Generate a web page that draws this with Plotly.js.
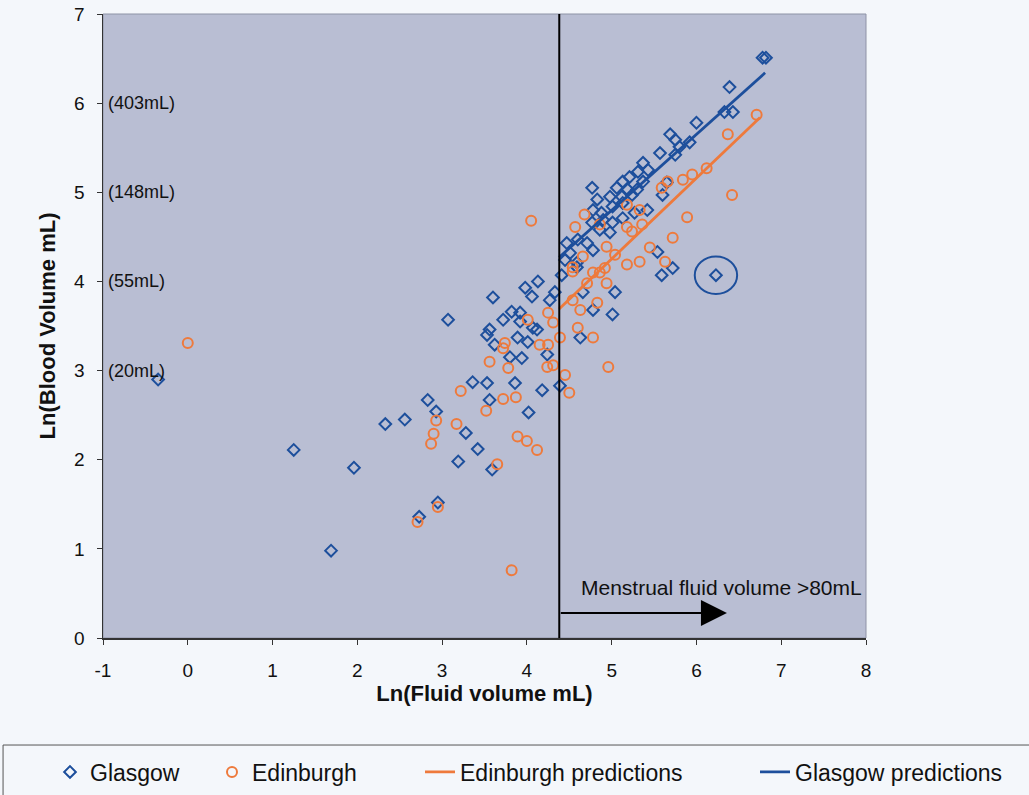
<!DOCTYPE html>
<html>
<head>
<meta charset="utf-8">
<script src="https://cdn.plot.ly/plotly-3.0.1.min.js"></script>
<style>
  html, body { margin: 0; padding: 0; background: #f4f7fb; }
  #chart { width: 1029px; height: 795px; }
</style>
</head>
<body>
<div id="chart"></div>
<script>
// Glasgow samples: ln(fluid volume) vs ln(blood volume)
const glasgowX = [-0.35, 1.25, 1.69, 1.96, 2.33, 2.56, 2.83, 2.93, 3.28, 3.42, 3.19, 3.59, 2.95, 2.73,
  4.02, 4.18, 4.39, 3.36, 3.53, 3.86, 3.56, 3.07, 3.60, 3.98, 4.13, 4.06, 4.33, 4.27, 4.41, 3.72,
  3.82, 3.92, 3.56, 3.53, 3.62, 3.92, 4.07, 4.12, 3.89, 4.01, 3.80, 3.94, 4.24, 4.63, 4.78, 5.01,
  5.04, 4.66, 4.59, 6.00, 6.33, 6.43, 5.69, 5.75, 5.92, 5.80, 5.57, 5.75, 5.37, 5.43, 5.31, 5.21,
  5.13, 5.37, 4.77, 5.06, 5.19, 5.30, 5.65, 5.60, 4.98, 5.12, 5.24, 4.83, 5.42, 4.78, 4.88, 5.01,
  5.13, 5.27, 4.77, 4.90, 5.01, 5.13, 4.86, 4.98, 4.47, 4.60, 4.71, 4.51, 4.78, 4.45, 4.59, 5.54,
  5.72, 5.59, 6.23, 6.78, 6.82, 6.39];
const glasgowY = [2.90, 2.11, 0.98, 1.91, 2.40, 2.45, 2.67, 2.54, 2.30, 2.12, 1.98, 1.89, 1.52, 1.36,
  2.53, 2.78, 2.83, 2.87, 2.86, 2.86, 2.67, 3.57, 3.82, 3.93, 4.00, 3.83, 3.88, 3.79, 4.07, 3.57,
  3.66, 3.65, 3.46, 3.40, 3.29, 3.55, 3.48, 3.46, 3.37, 3.32, 3.15, 3.14, 3.18, 3.37, 3.68, 3.63,
  3.88, 3.88, 4.16, 5.78, 5.90, 5.90, 5.65, 5.59, 5.56, 5.51, 5.44, 5.42, 5.33, 5.25, 5.23, 5.17,
  5.12, 5.12, 5.05, 5.05, 5.03, 5.03, 5.11, 4.97, 4.95, 4.95, 4.97, 4.92, 4.80, 4.80, 4.77, 4.84,
  4.88, 4.77, 4.66, 4.69, 4.66, 4.71, 4.58, 4.55, 4.43, 4.47, 4.43, 4.32, 4.35, 4.24, 4.21, 4.33,
  4.15, 4.07, 4.07, 6.51, 6.51, 6.18];

// Edinburgh samples
const edinburghX = [0.00, 3.22, 2.93, 2.90, 2.87, 3.17, 3.52, 3.72, 3.87, 3.89, 4.00, 4.12, 3.65, 2.95,
  2.71, 3.82, 4.50, 4.05, 3.56, 3.78, 3.72, 3.74, 4.01, 4.25, 4.31, 4.15, 4.25, 4.24, 4.31, 4.39,
  4.45, 4.54, 4.63, 4.83, 4.60, 4.78, 4.96, 4.71, 4.94, 4.86, 4.54, 6.71, 6.37, 6.12, 5.95, 5.84,
  5.66, 5.59, 6.42, 5.89, 5.18, 5.33, 4.68, 4.57, 4.86, 5.18, 5.24, 5.36, 5.72, 5.45, 4.94, 5.04,
  5.33, 5.18, 5.63, 4.92, 4.54, 4.78, 4.66];
const edinburghY = [3.31, 2.77, 2.44, 2.29, 2.18, 2.40, 2.55, 2.68, 2.70, 2.26, 2.21, 2.11, 1.95, 1.47,
  1.30, 0.76, 2.75, 4.68, 3.10, 3.03, 3.25, 3.31, 3.57, 3.65, 3.54, 3.29, 3.29, 3.04, 3.06, 3.37,
  2.95, 3.79, 3.68, 3.76, 3.48, 3.37, 3.04, 3.98, 3.98, 4.10, 4.16, 5.87, 5.65, 5.27, 5.20, 5.14,
  5.12, 5.05, 4.97, 4.72, 4.86, 4.80, 4.75, 4.61, 4.64, 4.61, 4.56, 4.64, 4.49, 4.38, 4.39, 4.30,
  4.22, 4.19, 4.22, 4.15, 4.11, 4.10, 4.28];

// Fitted prediction lines
const edinburghPredX = [4.38, 6.75];
const edinburghPredY = [3.69, 5.84];
const glasgowPredX = [4.38, 6.81];
const glasgowPredY = [4.27, 6.34];

// Axis tick values/labels and the matching volumes in mL
const xTicks = [-1, 0, 1, 2, 3, 4, 5, 6, 7, 8];
const xTickText = ['-1', '0', '1', '2', '3', '4', '5', '6', '7', '8'];
const yTicks = [0, 1, 2, 3, 4, 5, 6, 7];
const yTickText = ['0', '1', '2', '3', '4', '5', '6', '7'];
const volumeTickY = [6, 5, 4, 3];
const volumeTickText = ['(403mL)', '(148mL)', '(55mL)', '(20mL)'];

// 80 mL threshold on the fluid-volume axis, and the flagged outlier
const thresholdX = 4.382;
const arrowY = 0.28;
const arrowEndX = 6.36;
const outlierX = 6.23;
const outlierY = 4.07;

const FONT = 'Liberation Sans, Arial, sans-serif';
const BLUE = '#1d4f9c';
const ORANGE = '#ee7a3c';

const traces = [
  {
    x: glasgowX, y: glasgowY, type: 'scatter', mode: 'markers', name: 'Glasgow',
    marker: { symbol: 'diamond-open', size: 9, color: BLUE, line: { width: 2, color: BLUE } },
    legend: 'legend'
  },
  {
    x: edinburghX, y: edinburghY, type: 'scatter', mode: 'markers', name: 'Edinburgh',
    marker: { symbol: 'circle-open', size: 10, color: ORANGE, line: { width: 2, color: ORANGE } },
    legend: 'legend2'
  },
  {
    x: edinburghPredX, y: edinburghPredY, type: 'scatter', mode: 'lines', name: 'Edinburgh predictions',
    line: { color: ORANGE, width: 2.8 },
    legend: 'legend3'
  },
  {
    x: glasgowPredX, y: glasgowPredY, type: 'scatter', mode: 'lines', name: 'Glasgow predictions',
    line: { color: BLUE, width: 2.8 },
    legend: 'legend4'
  }
];

function legendAt(px) {
  return {
    xref: 'container', yref: 'container',
    x: px / 1029, y: 1 - 772 / 795,
    xanchor: 'left', yanchor: 'middle',
    orientation: 'h',
    bgcolor: 'rgba(0,0,0,0)', borderwidth: 0,
    font: { family: FONT, size: 23, color: '#111' }
  };
}

const annotations = volumeTickY.map((v, i) => ({
  x: -1, y: v, xref: 'x', yref: 'y', text: volumeTickText[i],
  showarrow: false, xanchor: 'left', xshift: 3,
  font: { family: FONT, size: 18, color: '#111' }
}));

annotations.push({
  x: 4.62, y: 0.57, xref: 'x', yref: 'y', text: 'Menstrual fluid volume >80mL',
  showarrow: false, xanchor: 'left',
  font: { family: FONT, size: 21, color: '#111' }
});

annotations.push({
  x: arrowEndX, y: arrowY, ax: thresholdX, ay: arrowY,
  xref: 'x', yref: 'y', axref: 'x', ayref: 'y',
  text: '', showarrow: true, arrowhead: 2, arrowsize: 2.6, arrowwidth: 2, arrowcolor: '#000'
});

const layout = {
  width: 1029, height: 795,
  margin: { l: 103, r: 163, t: 14, b: 157 },
  paper_bgcolor: '#f4f7fb',
  plot_bgcolor: '#b9bed3',
  font: { family: FONT, color: '#111' },
  showlegend: true,
  xaxis: {
    range: [-1, 8], tickvals: xTicks, ticktext: xTickText, ticks: 'outside', ticklen: 5, tickcolor: '#333',
    showline: true, linecolor: '#333', linewidth: 1.5, showgrid: false, zeroline: false,
    tickfont: { family: FONT, size: 19, color: '#111' }, ticklabelstandoff: 10,
    title: { text: '<b>Ln(Fluid volume mL)</b>', font: { family: FONT, size: 22, color: '#111' }, standoff: 4 }
  },
  yaxis: {
    range: [0, 7], tickvals: yTicks, ticktext: yTickText, ticks: 'outside', ticklen: 5, tickcolor: '#333',
    showline: true, linecolor: '#333', linewidth: 1.5, showgrid: false, zeroline: false,
    tickfont: { family: FONT, size: 19, color: '#111' }, ticklabelstandoff: 8,
    title: { text: '<b>Ln(Blood Volume mL)</b>', font: { family: FONT, size: 22, color: '#111' }, standoff: 12 }
  },
  legend: legendAt(50),
  legend2: legendAt(212),
  legend3: legendAt(420),
  legend4: legendAt(755),
  annotations: annotations,
  shapes: [
    // faint frame on the top and right of the plot area
    { type: 'rect', xref: 'paper', yref: 'paper', x0: 0, x1: 1, y0: 0, y1: 1,
      line: { color: '#8e93a6', width: 1 }, layer: 'below' },
    // 80 mL threshold
    { type: 'line', xref: 'x', yref: 'y', x0: thresholdX, x1: thresholdX, y0: 0, y1: 7,
      line: { color: '#000', width: 2 } },
    // flagged outlier
    { type: 'circle', xref: 'x', yref: 'y',
      x0: outlierX - 0.25, x1: outlierX + 0.25, y0: outlierY - 0.21, y1: outlierY + 0.21,
      line: { color: BLUE, width: 2 } },
    // legend frame
    { type: 'rect', xref: 'paper', yref: 'paper', x0: -0.131, x1: 1.23, y0: -0.1715, y1: -0.28,
      line: { color: '#555', width: 1 } }
  ]
};

Plotly.newPlot('chart', traces, layout, { displayModeBar: false, staticPlot: true });
</script>
</body>
</html>
